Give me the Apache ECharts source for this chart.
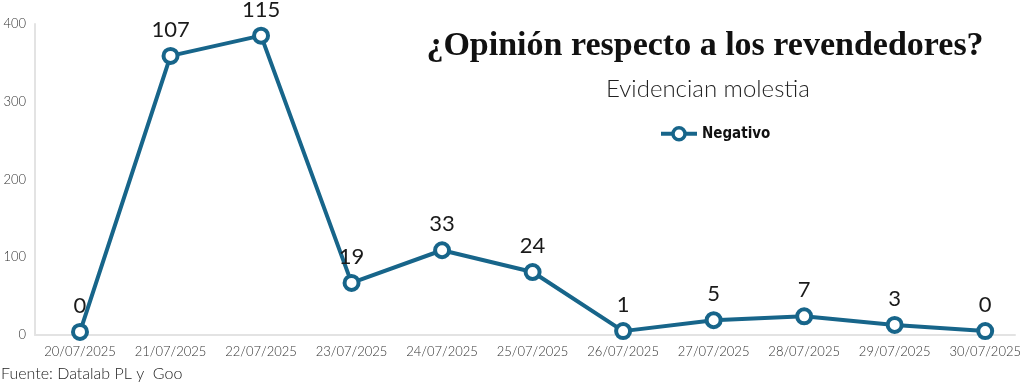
<!DOCTYPE html>
<html><head><meta charset="utf-8">
<script src="https://cdn.jsdelivr.net/npm/echarts@6/dist/echarts.min.js"></script>
<style>html,body{margin:0;padding:0;background:#fff}#c{width:1024px;height:383px}</style>
</head><body><div id="c"></div>
<script>
const categories = ['20/07/2025','21/07/2025','22/07/2025','23/07/2025','24/07/2025','25/07/2025','26/07/2025','27/07/2025','28/07/2025','29/07/2025','30/07/2025'];
const values = [4, 359, 385, 67, 109, 81, 5, 19, 24, 13, 5];
const pointLabels = ['0','107','115','19','33','24','1','5','7','3','0'];
const yTicks = [0, 100, 200, 300, 400];

const chart = echarts.init(document.getElementById('c'));
chart.setOption({
  animation: false,
  title: [
    {text: '¿Opinión respecto a los revendedores?', left: 700, top: 24, textAlign: 'center',
     textStyle: {fontFamily: 'Liberation Serif', fontWeight: 'bold', fontSize: 34, color: '#111'}},
    {text: 'Evidencian molestia', left: 703, top: 72, textAlign: 'center',
     textStyle: {fontFamily: 'Lato', fontWeight: 300, fontSize: 24, color: '#222'}},
    {text: 'Fuente: Datalab PL y  Goo', left: -4, top: 361,
     textStyle: {fontFamily: 'Lato', fontWeight: 300, fontSize: 16, color: '#222'}}
  ],
  legend: {
    left: 654, top: 121, itemWidth: 36, itemHeight: 15, itemGap: 5,
    lineStyle: {width: 4},
    itemStyle: {borderWidth: 3.5},
    textStyle: {fontFamily: 'DejaVu Sans Condensed', fontWeight: 'bold', fontSize: 15, color: '#111'},
    data: ['Negativo']
  },
  grid: [
    {left: 80, top: 24, bottom: 48, right: 36, containLabel: false},
    {left: 35, top: 24, bottom: 48, right: 9, containLabel: false}
  ],
  xAxis: [{
    type: 'category', data: categories, boundaryGap: false, gridIndex: 0,
    axisLine: {show: false},
    axisTick: {show: false},
    axisLabel: {fontFamily: 'Lato', fontWeight: 300, fontSize: 13, color: '#333', margin: 10, interval: 0}
  }, {
    type: 'category', data: categories, gridIndex: 1,
    axisLine: {lineStyle: {color: '#e3e3e3', width: 2}},
    axisTick: {show: false}, axisLabel: {show: false}
  }],
  yAxis: [{
    type: 'value', min: yTicks[0], max: yTicks[yTicks.length - 1], interval: 100, gridIndex: 0,
    offset: 45,
    axisLine: {show: true, lineStyle: {color: '#e3e3e3', width: 2}},
    axisTick: {show: false},
    splitLine: {show: false},
    axisLabel: {fontFamily: 'Lato', fontWeight: 300, fontSize: 13, color: '#333', margin: 9}
  }, {
    type: 'value', gridIndex: 1, show: false, splitLine: {show: false}
  }],
  series: [{
    name: 'Negativo', type: 'line', data: values, xAxisIndex: 0, yAxisIndex: 0,
    symbol: 'circle', symbolSize: 14,
    lineStyle: {color: '#17658a', width: 4},
    itemStyle: {color: '#ffffff', borderColor: '#17658a', borderWidth: 4},
    label: {show: true, position: 'top', distance: 6,
      formatter: p => pointLabels[p.dataIndex],
      fontFamily: 'Lato', fontWeight: 400, fontSize: 22, color: '#1a1a1a'}
  }]
});
</script></body></html>
